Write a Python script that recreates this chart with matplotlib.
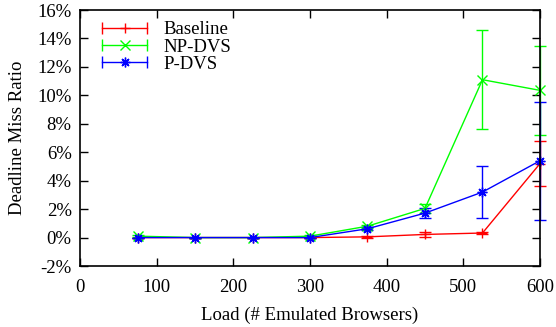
import matplotlib
matplotlib.use("Agg")
import matplotlib.pyplot as plt
from matplotlib.lines import Line2D
from matplotlib.legend_handler import HandlerLine2D
from matplotlib.ticker import FuncFormatter

plt.rcParams['font.family'] = ['Liberation Serif', 'DejaVu Serif']
plt.rcParams['font.size'] = 13.5

load = [75, 150, 225, 300, 375, 450, 525, 600]

base = [0.0, 0.0, 0.0, 0.0, 0.05, 0.22, 0.32, 5.2]
base_err = [0.0, 0.0, 0.0, 0.0, 0.05, 0.15, 0.08, 1.6]

npdvs = [0.1, 0.0, 0.0, 0.1, 0.8, 2.05, 11.1, 10.35]
npdvs_err = [0.05, 0.0, 0.0, 0.05, 0.1, 0.3, 3.5, 3.15]

pdvs = [0.0, 0.0, 0.0, 0.0, 0.62, 1.72, 3.2, 5.4]
pdvs_err = [0.0, 0.0, 0.0, 0.0, 0.12, 0.35, 1.8, 4.15]

names = ['Baseline', 'NP-DVS', 'P-DVS']
colors = ['#ff0000', '#00ff00', '#0000ff']
markers = ['+', 'x', (8, 2, 0)]

fig = plt.figure(figsize=(5.56, 3.27), dpi=100)
ax = fig.add_axes([0.1439, 0.1865, 0.8273, 0.7829])

series = [(base, base_err), (npdvs, npdvs_err), (pdvs, pdvs_err)]
handles = []
hmap = {}
for (y, e), name, c, m in zip(series, names, colors, markers):
    ax.errorbar(load, y, yerr=e, color=c, marker=m, markersize=7,
                markeredgewidth=1, linewidth=1, capsize=4, elinewidth=1,
                capthick=1, clip_on=False)
    caps = Line2D([], [], color=c, marker='|', markersize=8, linewidth=1)
    mid = Line2D([], [], color=c, marker=m, markersize=7, linestyle='none')
    hmap[caps] = HandlerLine2D(numpoints=2)
    hmap[mid] = HandlerLine2D(numpoints=1)
    handles.append((caps, mid))

ax.legend(handles, names, handler_map=hmap, loc='upper left', frameon=False,
          handlelength=3.0, handletextpad=0.55, labelspacing=0.0,
          borderaxespad=0.0, bbox_to_anchor=(0.02, 0.985))

ax.set_xlim(0, 600)
ax.set_ylim(-2, 16)
ax.set_xticks(range(0, 601, 100))
ax.set_yticks(range(-2, 17, 2))
ax.yaxis.set_major_formatter(FuncFormatter(lambda v, p: '%d%%' % v))
ax.tick_params(direction='in', length=6, width=1, top=True, right=True, pad=6)
ax.tick_params(axis='x', pad=9)
for s in ax.spines.values():
    s.set_linewidth(1.2)

ax.set_xlabel('Load (# Emulated Browsers)', labelpad=8)
ax.set_ylabel('Deadline Miss Ratio', labelpad=8)

fig.savefig('out.png', dpi=100)
